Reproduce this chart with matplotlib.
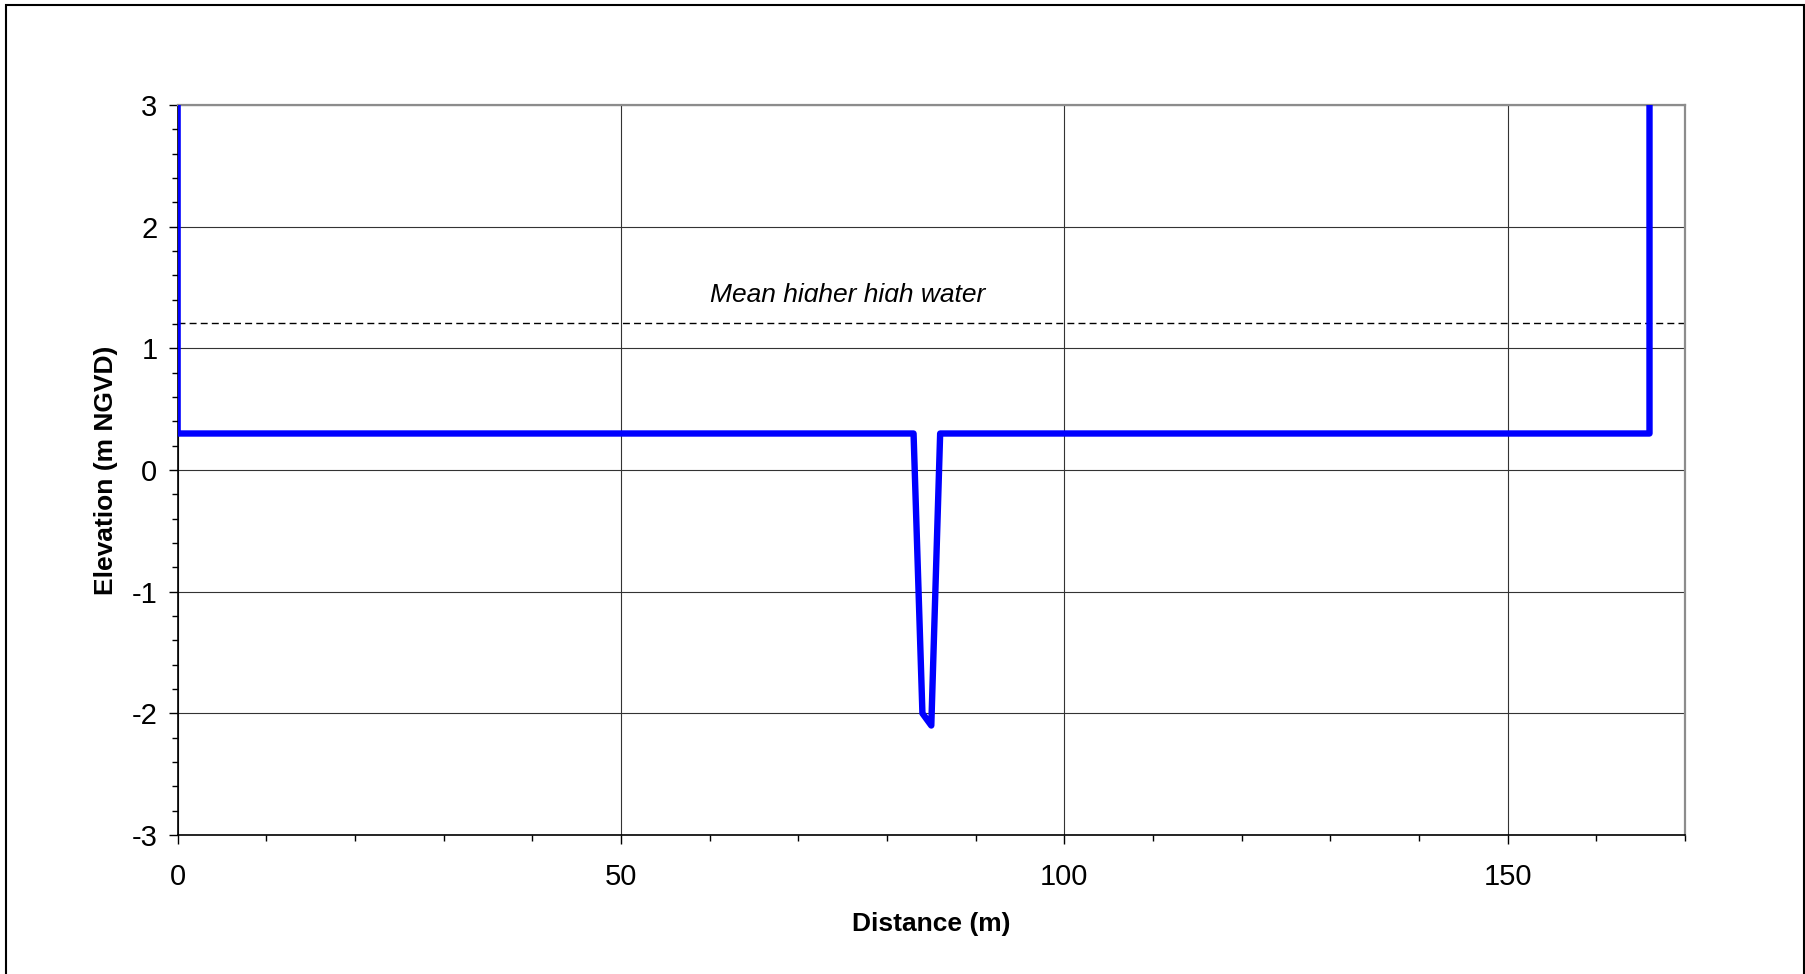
import matplotlib
matplotlib.use('Agg')
import matplotlib.pyplot as plt
from matplotlib.patches import Rectangle
from matplotlib.ticker import MultipleLocator

plt.rcParams['font.family'] = ['Liberation Sans', 'DejaVu Sans']
plt.rcParams['axes.unicode_minus'] = False

# cross-section profile
distance = [0, 0, 83, 84, 85, 86, 166, 166]
elevation = [3, 0.3, 0.3, -2.0, -2.1, 0.3, 0.3, 3]
mhhw_level = 1.21
mhhw_label = 'Mean higher high water'

fig = plt.figure(figsize=(18.05, 9.74), dpi=100)
ax = fig.add_axes([0.0984, 0.1427, 0.8351, 0.7495])

ax.set_xlim(0, 170)
ax.set_ylim(-3, 3)
ax.xaxis.set_major_locator(MultipleLocator(50))
ax.xaxis.set_minor_locator(MultipleLocator(10))
ax.yaxis.set_major_locator(MultipleLocator(1))
ax.yaxis.set_minor_locator(MultipleLocator(0.2))

ax.grid(True, which='major', color='#333333', linewidth=0.8)
ax.set_axisbelow(True)

ax.plot([0, 170.4], [mhhw_level, mhhw_level], color='black', linewidth=1.0,
        dashes=(5, 3), clip_on=False, zorder=2)
t = ax.text(75.6, 1.383, mhhw_label, ha='center', va='baseline',
            fontsize=19, style='italic', zorder=3)
# the label in the original has its descenders cut off
clip = Rectangle((0, 1.383), 170, 2, transform=ax.transData)
t.set_clip_path(clip)
t.set_clip_on(True)

ax.plot(distance, elevation, color='#0000ff', linewidth=4.6,
        solid_joinstyle='round', solid_capstyle='butt', zorder=4)

for side in ['left', 'bottom']:
    ax.spines[side].set_color('black')
    ax.spines[side].set_linewidth(1.2)
for side in ['top', 'right']:
    ax.spines[side].set_color('#8c8c8c')
    ax.spines[side].set_linewidth(1.6)

ax.tick_params(which='major', direction='out', length=6.5, width=1.0,
               labelsize=21, color='black')
ax.tick_params(which='minor', direction='out', length=4.3, width=1.0,
               color='black')
ax.tick_params(axis='x', which='major', pad=14)
ax.tick_params(axis='y', which='major', pad=8)

ax.set_xlabel('Distance (m)', fontsize=19, fontweight='bold', labelpad=15)
ax.set_ylabel('Elevation (m NGVD)', fontsize=19, fontweight='bold', labelpad=10)

fig.patches.append(Rectangle((5.5 / 1805, -0.05), 1798 / 1805, 1.05 - 4.5 / 974,
                             transform=fig.transFigure, fill=False,
                             edgecolor='black', linewidth=1.5))

fig.savefig('out.png', dpi=100)
